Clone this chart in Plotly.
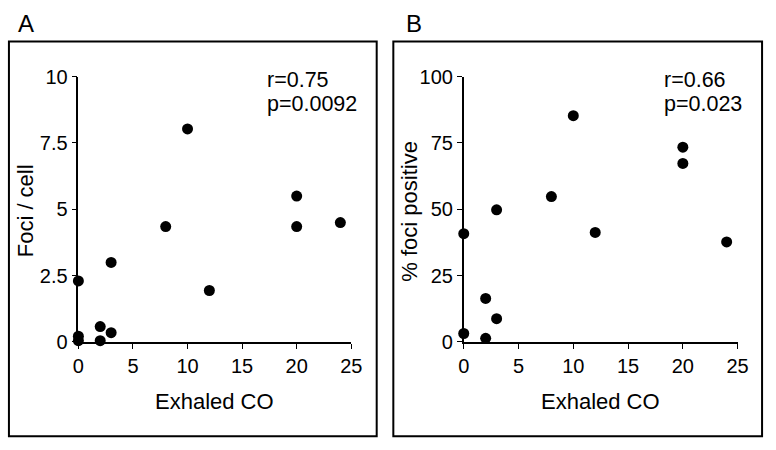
import plotly.graph_objects as go

W, H = 776, 450

# Panel A data
co_a = [0, 0, 0, 2, 2, 3, 3, 8, 10, 12, 20, 20, 24]
foci_a = [2.3, 0.22, 0.05, 0.58, 0.05, 3.0, 0.35, 4.35, 8.03, 1.94, 5.5, 4.35, 4.5]

# Panel B data
co_b = [0, 0, 2, 2, 3, 3, 8, 10, 12, 20, 20, 24]
pct_b = [40.8, 3.2, 16.4, 1.4, 49.8, 8.8, 54.8, 85.3, 41.3, 73.4, 67.3, 37.7]

x_ticks = [0, 5, 10, 15, 20, 25]
ya_ticks = [0, 2.5, 5, 7.5, 10]
ya_labels = ["0", "2.5", "5", "7.5", "10"]
yb_ticks = [0, 25, 50, 75, 100]

x_title = "Exhaled CO"
ya_title = "Foci / cell"
yb_title = "% foci positive"
stats_a = ["r=0.75", "p=0.0092"]
stats_b = ["r=0.66", "p=0.023"]

FONT = "Liberation Sans, Arial, Helvetica, sans-serif"

def px(x):
    return x / W

def py(y):
    return 1 - y / H

fig = go.Figure()
marker = dict(color="black", size=11, line=dict(width=0))
fig.add_trace(go.Scatter(x=co_a, y=foci_a, mode="markers", marker=marker,
                         cliponaxis=False, xaxis="x", yaxis="y", showlegend=False))
fig.add_trace(go.Scatter(x=co_b, y=pct_b, mode="markers", marker=marker,
                         cliponaxis=False, xaxis="x2", yaxis="y2", showlegend=False))

ydom = [py(348), py(69)]
common = dict(showline=True, linecolor="black", linewidth=1.5, ticks="outside",
              ticklen=5, tickwidth=1, tickcolor="black", showgrid=False, zeroline=False,
              tickfont=dict(size=20, color="black", family=FONT), fixedrange=True)

fig.update_layout(
    width=W, height=H, margin=dict(l=0, r=0, t=0, b=0),
    paper_bgcolor="white", plot_bgcolor="white",
    font=dict(family=FONT, color="black"),
    xaxis=dict(domain=[px(74), px(353)], range=[0, 25], tickvals=x_ticks, anchor="y", **common),
    yaxis=dict(domain=ydom, range=[0, 10], tickvals=ya_ticks, ticktext=ya_labels, anchor="x", **common),
    xaxis2=dict(domain=[px(468), px(748)], range=[0, 25], tickvals=x_ticks, anchor="y2", **common),
    yaxis2=dict(domain=ydom, range=[0, 100], tickvals=yb_ticks, anchor="x2", **common),
)

# panel frames
for x0, x1 in [(3, 379), (396, 773)]:
    fig.add_shape(type="rect", xref="paper", yref="paper",
                  x0=px(x0), x1=px(x1), y0=py(447), y1=py(32),
                  line=dict(color="black", width=2), fillcolor="rgba(0,0,0,0)")

def text(t, x, y, size, angle=0, xanchor="center"):
    fig.add_annotation(text=t, xref="paper", yref="paper", x=px(x), y=py(y),
                       xanchor=xanchor, yanchor="middle", showarrow=False, textangle=angle,
                       font=dict(size=size, color="black", family=FONT))

# panel letters
text("A", 10, 13, 24, xanchor="left")
text("B", 407, 13, 24, xanchor="left")

# axis titles
text(x_title, 213.5, 411, 22)
text(x_title, 608, 411, 22)
text(ya_title, 20, 210, 22, angle=-90)
text(yb_title, 413, 210, 22, angle=-90)

# statistics text
for lines, x in [(stats_a, 265), (stats_b, 671)]:
    for line, y in zip(lines, [72.5, 97.5]):
        text(line, x, y, 21.5, xanchor="left")

fig.write_html(
    "out.html",
    config={"displayModeBar": False},
    post_script="document.body.style.margin='0';document.body.style.overflow='hidden';",
)
